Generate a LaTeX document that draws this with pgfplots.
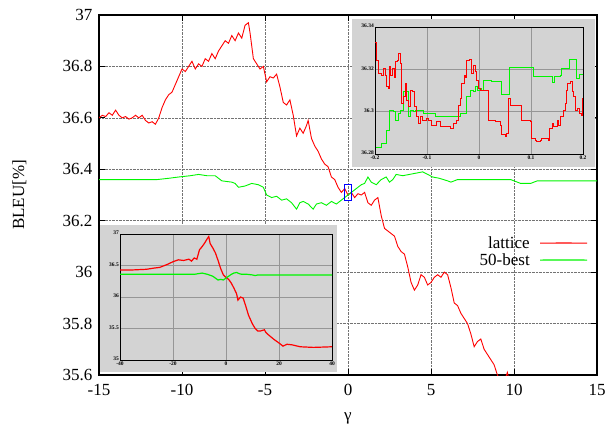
\documentclass[border=0pt]{standalone}
\usepackage{pgfplots}
\pgfplotsset{compat=1.18}
\usepackage{fontspec}
\setmainfont{Liberation Serif}
\definecolor{gpred}{RGB}{255,0,0}
\definecolor{gpgreen}{RGB}{0,245,0}
\definecolor{insetbg}{RGB}{211,211,211}
\definecolor{insetgrid}{RGB}{150,150,150}
\begin{document}
\begin{tikzpicture}
\useasboundingbox (0,0) rectangle (609pt,428pt);
\begin{axis}[
  at={(99pt,53pt)}, anchor=south west,
  scale only axis, width=498pt, height=360pt,
  xmin=-15, xmax=15, ymin=35.6, ymax=37,
  xtick={-15,-10,-5,0,5,10,15},
  xticklabels={-15,-10,-5,0,5,10,15},
  ytick={35.6,35.8,36,36.2,36.4,36.6,36.8,37},
  yticklabels={35.6,35.8,36,36.2,36.4,36.6,36.8,37},
  tick align=inside, major tick length=6pt,
  tick style={line width=1pt, black},
  grid=major, grid style={densely dotted, black!55, line width=0.6pt},
  axis line style={line width=1.4pt},
  tick label style={font=\fontsize{17}{17}\selectfont},
  xticklabel style={yshift=-6pt},
  yticklabel style={xshift=-3pt},
  label style={font=\fontsize{17}{17}\selectfont},
  xlabel={γ},
  xlabel style={at={(axis description cs:0.5,-0.12)}, anchor=center},
  ylabel={BLEU[\%]},
  ylabel style={at={(axis description cs:-0.16,0.5)}, anchor=center},
  clip=true,
]
% legend samples
\addplot[draw=gpred, line width=1.1pt] coordinates {(11.57,36.113) (13.0,36.1132) (14.40,36.113)};
\addplot[draw=gpgreen, line width=1.1pt] coordinates {(11.57,36.047) (13.0,36.0472) (14.40,36.047)};
\addplot[draw=gpred, line width=0.9pt] coordinates {
(-15,36.60) (-14.8,36.61) (-14.6,36.605) (-14.4,36.62) (-14.2,36.61) (-14.0,36.63) (-13.8,36.61)
(-13.6,36.60) (-13.4,36.605) (-13.2,36.595) (-13.0,36.60) (-12.8,36.61) (-12.6,36.60) (-12.4,36.61)
(-12.2,36.59) (-12.0,36.58) (-11.8,36.585) (-11.6,36.575) (-11.4,36.60) (-11.2,36.64) (-11.0,36.67)
(-10.8,36.69) (-10.6,36.70) (-10.4,36.73) (-10.2,36.76) (-10.0,36.79) (-9.8,36.78) (-9.6,36.80)
(-9.4,36.82) (-9.2,36.79) (-9.0,36.81) (-8.8,36.80) (-8.6,36.83) (-8.4,36.82) (-8.2,36.85)
(-8.0,36.83) (-7.8,36.86) (-7.6,36.88) (-7.4,36.90) (-7.2,36.89) (-7.0,36.92) (-6.8,36.90)
(-6.6,36.93) (-6.4,36.91) (-6.2,36.96) (-6.0,36.97) (-5.9,36.93) (-5.8,36.88) (-5.7,36.83)
(-5.5,36.81) (-5.3,36.79) (-5.1,36.80) (-4.9,36.74) (-4.7,36.76) (-4.5,36.755) (-4.3,36.77)
(-4.1,36.72) (-3.9,36.66) (-3.7,36.65) (-3.5,36.67) (-3.3,36.61) (-3.1,36.53) (-2.9,36.56)
(-2.7,36.54) (-2.5,36.57) (-2.4,36.59) (-2.2,36.52) (-2.0,36.49) (-1.8,36.47) (-1.6,36.44)
(-1.4,36.42) (-1.2,36.41) (-1.0,36.37) (-0.8,36.36) (-0.6,36.33) (-0.4,36.31) (-0.2,36.325)
(0,36.30) (0.2,36.31) (0.4,36.29) (0.6,36.305) (0.8,36.30) (1.0,36.31) (1.2,36.27) (1.4,36.26)
(1.6,36.28) (1.8,36.29) (2.0,36.22) (2.2,36.17) (2.4,36.16) (2.6,36.15) (2.8,36.14) (3.0,36.10)
(3.2,36.08) (3.4,36.07) (3.6,36.02) (3.8,35.96) (4.0,35.93) (4.2,35.95) (4.4,35.99) (4.6,35.98)
(4.8,35.95) (5.0,35.96) (5.2,35.98) (5.4,35.99) (5.6,35.98) (5.8,36.00) (6.0,35.99) (6.2,35.94)
(6.4,35.88) (6.6,35.87) (6.8,35.84) (7.0,35.82) (7.2,35.80) (7.4,35.76) (7.6,35.71) (7.8,35.73)
(8.0,35.74) (8.2,35.70) (8.4,35.68) (8.6,35.66) (8.8,35.64) (9.0,35.60) (9.2,35.57) (9.5,35.59)
(9.6,35.61) (9.7,35.58) (10,35.55) (12,35.45)
};
\addplot[draw=gpgreen, line width=0.9pt] coordinates {
(-15,36.36) (-11.5,36.36) (-10.8,36.365) (-10.2,36.37) (-9.5,36.375) (-9.0,36.38) (-8.5,36.375)
(-8.0,36.375) (-7.8,36.365) (-7.6,36.355) (-7.0,36.35) (-6.8,36.345) (-6.6,36.33) (-6.2,36.335)
(-5.8,36.345) (-5.4,36.34) (-5.1,36.33) (-4.9,36.30) (-4.6,36.29) (-4.3,36.295) (-4.0,36.28)
(-3.7,36.285) (-3.4,36.27) (-3.1,36.245) (-2.9,36.27) (-2.7,36.275) (-2.4,36.265) (-2.1,36.245)
(-1.9,36.265) (-1.6,36.27) (-1.3,36.26) (-1.0,36.275) (-0.7,36.265) (-0.4,36.28) (-0.2,36.29)
(0,36.30) (0.2,36.31) (0.5,36.325) (0.8,36.34) (1.0,36.345) (1.2,36.37) (1.4,36.35) (1.7,36.34)
(2.0,36.36) (2.3,36.37) (2.5,36.35) (2.7,36.36) (2.9,36.38) (3.3,36.375) (3.7,36.38) (4.1,36.385)
(4.5,36.39) (4.8,36.38) (5.1,36.37) (5.5,36.365) (6.0,36.355) (6.2,36.35) (6.6,36.36) (8,36.36)
(9.8,36.36) (10.2,36.35) (10.4,36.345) (11.0,36.345) (11.4,36.355) (15,36.355)
};
\addplot[draw=blue, line width=0.8pt] coordinates {
(-0.22,36.28) (0.22,36.28) (0.22,36.34) (-0.22,36.34) (-0.22,36.28)
};
\node[anchor=east, inner sep=0pt, font=\fontsize{17}{17}\selectfont] at (axis cs:10.96,36.113) {lattice};
\node[anchor=east, inner sep=0pt, font=\fontsize{17}{17}\selectfont] at (axis cs:10.96,36.047) {50-best};
\end{axis}

% inset 1 (zoom)
\fill[insetbg] (352pt,261pt) rectangle (595pt,409pt);
\begin{axis}[
  at={(375pt,274pt)}, anchor=south west,
  scale only axis, width=208pt, height=127pt,
  xmin=-0.2, xmax=0.2, ymin=36.28, ymax=36.34,
  xtick={-0.2,-0.1,0,0.1,0.2}, xticklabels={-0.2,-0.1,0,0.1,0.2},
  ytick={36.28,36.3,36.32,36.34}, yticklabels={36.28,36.3,36.32,36.34},
  major tick length=0pt,
  grid=major, grid style={insetgrid, line width=0.9pt},
  axis line style={line width=0.9pt},
  tick label style={font=\fontsize{5.5}{5.5}\selectfont\bfseries, inner sep=1pt},
  xticklabel style={yshift=-1pt},
  yticklabel style={yshift=1pt},
]
\addplot[draw=gpgreen, line width=1pt, const plot] coordinates {
(-0.1981,36.2831) (-0.1872,36.2850) (-0.1788,36.2913) (-0.1724,36.3007) (-0.1647,36.2999) (-0.1615,36.2960)
(-0.1551,36.2992) (-0.1518,36.3007) (-0.1454,36.3094) (-0.1358,36.2976) (-0.1326,36.3007) (-0.1262,36.2999)
(-0.1230,36.3007) (-0.1069,36.2992) (-0.0844,36.2976) (-0.0363,36.2992) (-0.0234,36.3070) (-0.0170,36.3102)
(-0.0106,36.3094) (-0.0074,36.3117) (-0.0029,36.3102) (0.0022,36.3109) (0.0055,36.3102) (0.0087,36.3149)
(0.0247,36.3141) (0.0440,36.3081) (0.0588,36.3207) (0.1050,36.3164) (0.1422,36.3136) (0.1448,36.3164)
(0.1563,36.3172) (0.1595,36.3204) (0.1743,36.3246) (0.1872,36.3157) (0.1936,36.3175) (0.2,36.3175)
};
\addplot[draw=gpred, line width=0.9pt, const plot] coordinates {
(-0.2,36.3329) (-0.1968,36.3243) (-0.1936,36.3180) (-0.1872,36.3172) (-0.1839,36.3204) (-0.1807,36.3172)
(-0.1775,36.3117) (-0.1743,36.3109) (-0.1724,36.3212) (-0.1698,36.3172) (-0.1660,36.3204) (-0.1634,36.3164)
(-0.1615,36.3235) (-0.1570,36.3243) (-0.1551,36.3274) (-0.1518,36.3227) (-0.1499,36.3102) (-0.1486,36.3039)
(-0.1454,36.3070) (-0.1422,36.3133) (-0.1390,36.3054) (-0.1358,36.3023) (-0.1313,36.3102) (-0.1274,36.3094)
(-0.1249,36.3023) (-0.1210,36.2976) (-0.1165,36.2945) (-0.1133,36.2976) (-0.1082,36.2960) (-0.1018,36.2968)
(-0.0973,36.2960) (-0.0909,36.2937) (-0.0812,36.2952) (-0.0748,36.2929) (-0.0555,36.2921) (-0.0491,36.2945)
(-0.0427,36.2960) (-0.0395,36.3031) (-0.0363,36.3062) (-0.0331,36.3133) (-0.0286,36.3172) (-0.0266,36.3164)
(-0.0234,36.3243) (-0.0189,36.3246) (-0.0138,36.3180) (-0.0106,36.3219) (-0.0074,36.3188) (-0.0042,36.3149)
(-0.0010,36.3109) (0.0022,36.3102) (0.0183,36.2960) (0.0311,36.2952) (0.0408,36.2937) (0.0427,36.2890)
(0.0504,36.2882) (0.0536,36.2897) (0.0568,36.3062) (0.0600,36.3031) (0.0825,36.2960) (0.0986,36.2952)
(0.1018,36.2874) (0.1082,36.2866) (0.1114,36.2858) (0.1178,36.2866) (0.1210,36.2874) (0.1339,36.2866)
(0.1358,36.2921) (0.1403,36.2945) (0.1435,36.2929) (0.1499,36.2960) (0.1531,36.2937) (0.1563,36.2976)
(0.1628,36.3007) (0.1660,36.3039) (0.1679,36.3102) (0.1705,36.3133) (0.1756,36.3141) (0.1788,36.3094)
(0.1820,36.3070) (0.1852,36.3007) (0.1897,36.3015) (0.1936,36.2992) (0.1961,36.2984) (0.1981,36.3062)
(0.2,36.3062)
};
\end{axis}

% inset 2 (wide range)
\fill[insetbg] (100pt,56pt) rectangle (337pt,203pt);
\begin{axis}[
  at={(120pt,68pt)}, anchor=south west,
  scale only axis, width=212pt, height=126pt,
  xmin=-40, xmax=40, ymin=35, ymax=37,
  xtick={-40,-20,0,20,40}, xticklabels={-40,-20,0,20,40},
  ytick={35,35.5,36,36.5,37}, yticklabels={35,35.5,36,36.5,37},
  major tick length=0pt,
  grid=major, grid style={insetgrid, line width=0.9pt},
  axis line style={line width=0.9pt},
  tick label style={font=\fontsize{5.5}{5.5}\selectfont\bfseries, inner sep=1pt},
  xticklabel style={yshift=-1pt},
  yticklabel style={yshift=1pt},
]
\addplot[draw=gpred, line width=1.2pt] coordinates {
(-40,36.43) (-35,36.43) (-30,36.44) (-27,36.46) (-25,36.47) (-22,36.52) (-20,36.56) (-18,36.59)
(-16,36.58) (-14,36.60) (-13,36.57) (-12,36.62) (-11,36.60) (-10,36.75) (-9,36.80) (-8,36.86)
(-7,36.93) (-6.5,36.96) (-6,36.85) (-5,36.78) (-4,36.70) (-3,36.58) (-2,36.45) (-1,36.35)
(0,36.31) (1,36.28) (2,36.22) (3,36.14) (4,36.05) (4.5,35.95) (5.5,36.0) (6.5,35.98) (7.5,35.85)
(8.5,35.71) (10,35.57) (11,35.50) (12,35.46) (13,35.46) (14.5,35.48) (15,35.44) (16,35.40)
(18,35.33) (20,35.27) (21.5,35.22) (23,35.25) (25,35.24) (28,35.21) (33,35.20) (40,35.21)
};
\addplot[draw=gpgreen, line width=1.2pt] coordinates {
(-40,36.36) (-20,36.36) (-12,36.36) (-9,36.38) (-7,36.36) (-5,36.33) (-4,36.30) (-3,36.27)
(-2,36.28) (-1,36.27) (0,36.30) (1,36.33) (2,36.36) (3,36.38) (4,36.39) (5,36.37) (6,36.36)
(8,36.36) (10,36.35) (11,36.34) (12,36.35) (40,36.35)
};
\end{axis}
\end{tikzpicture}
\end{document}
